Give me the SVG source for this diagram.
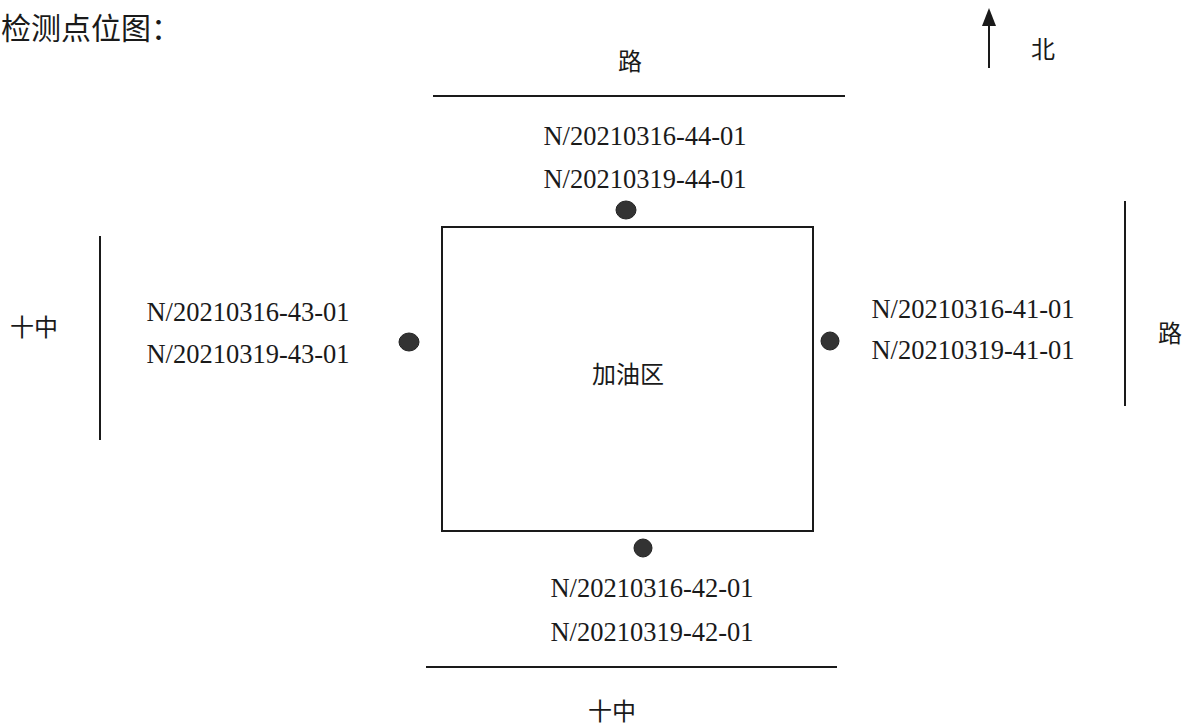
<svg xmlns="http://www.w3.org/2000/svg" width="1195" height="726" viewBox="0 0 1195 726">
<style>
.ln{stroke:#1a1a1a;stroke-width:2;fill:none}
.lbl{font-family:"Liberation Serif","Times New Roman",serif;font-size:26.5px;fill:#1a1a1a}
.cn{font-family:"Noto Sans CJK SC","Noto Sans CJK JP",sans-serif;font-size:24px;fill:#1a1a1a}
.dot{fill:#333;stroke:#222;stroke-width:1}
</style>
<rect width="1195" height="726" fill="#fff"/>
<text class="cn" x="1" y="39" style="font-size:30px">检测点位图：</text>
<g id="north">
<line class="ln" x1="989" y1="68" x2="989" y2="22"/>
<path d="M982,26 L989,8 L996,26 Z" fill="#1a1a1a"/>
<text class="cn" x="1031" y="58">北</text>
</g>
<g id="roads">
<line class="ln" x1="433" y1="96" x2="845" y2="96"/>
<text class="cn" x="630" y="70" text-anchor="middle">路</text>
<line class="ln" x1="426" y1="667" x2="837" y2="667"/>
<text class="cn" x="612" y="720" text-anchor="middle">十中</text>
<line class="ln" x1="100" y1="236" x2="100" y2="440"/>
<text class="cn" x="34" y="336" text-anchor="middle">十中</text>
<line class="ln" x1="1125" y1="201" x2="1125" y2="406"/>
<text class="cn" x="1170" y="342" text-anchor="middle">路</text>
</g>
<g id="area">
<rect class="ln" x="442" y="227" width="371" height="304"/>
<text class="cn" x="628" y="383" text-anchor="middle">加油区</text>
</g>
<g id="p44">
<ellipse class="dot" cx="626" cy="210" rx="10" ry="9"/>
<text class="lbl" x="645" y="145" text-anchor="middle">N/20210316-44-01</text>
<text class="lbl" x="645" y="188" text-anchor="middle">N/20210319-44-01</text>
</g>
<g id="p43">
<ellipse class="dot" cx="409" cy="342" rx="10" ry="9"/>
<text class="lbl" x="248" y="321" text-anchor="middle">N/20210316-43-01</text>
<text class="lbl" x="248" y="363" text-anchor="middle">N/20210319-43-01</text>
</g>
<g id="p41">
<ellipse class="dot" cx="830" cy="341" rx="9" ry="9"/>
<text class="lbl" x="973" y="318" text-anchor="middle">N/20210316-41-01</text>
<text class="lbl" x="973" y="359" text-anchor="middle">N/20210319-41-01</text>
</g>
<g id="p42">
<ellipse class="dot" cx="643" cy="548" rx="9" ry="9"/>
<text class="lbl" x="652" y="597" text-anchor="middle">N/20210316-42-01</text>
<text class="lbl" x="652" y="641" text-anchor="middle">N/20210319-42-01</text>
</g>
</svg>
